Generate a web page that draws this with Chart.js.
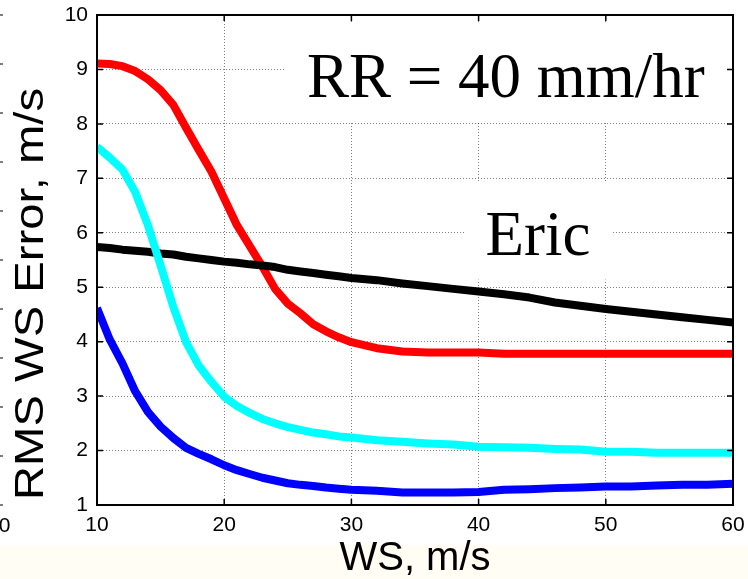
<!DOCTYPE html>
<html>
<head>
<meta charset="utf-8">
<script src="https://cdn.jsdelivr.net/npm/chart.js@4.4.1/dist/chart.umd.min.js"></script>
<style>
  html, body { margin: 0; padding: 0; background: #ffffff; }
  #wrap { width: 748px; height: 579px; position: relative; }
  canvas { display: block; }
</style>
</head>
<body>
<div id="wrap"><canvas id="chart" width="748" height="579"></canvas></div>
<script>
// Wind speed (m/s) at which each RMS error was evaluated
const windSpeed = [10, 11, 12, 13, 14, 15, 16, 17, 18, 19, 20, 21, 22, 23, 24, 25, 26, 27, 28, 29, 30,
                   32, 34, 36, 38, 40, 42, 44, 46, 48, 50, 52, 54, 56, 58, 60];

// RMS wind-speed error (m/s) for each retrieval, rain rate 40 mm/hr
const rmsRed   = [9.11, 9.10, 9.06, 8.97, 8.82, 8.62, 8.35, 7.93, 7.52, 7.12, 6.63, 6.14, 5.76, 5.38, 4.97, 4.70, 4.52, 4.32, 4.19, 4.08, 3.99,
                  3.88, 3.82, 3.80, 3.80, 3.80, 3.78, 3.78, 3.78, 3.78, 3.78, 3.78, 3.78, 3.78, 3.78, 3.78];
const rmsCyan  = [7.58, 7.38, 7.16, 6.75, 6.14, 5.40, 4.64, 3.99, 3.56, 3.26, 2.99, 2.82, 2.69, 2.58, 2.50, 2.43, 2.38, 2.33, 2.30, 2.26, 2.24,
                  2.19, 2.16, 2.13, 2.11, 2.07, 2.06, 2.05, 2.03, 2.02, 1.98, 1.98, 1.96, 1.96, 1.96, 1.96];
const rmsBlue  = [4.62, 4.04, 3.60, 3.09, 2.71, 2.44, 2.23, 2.05, 1.94, 1.84, 1.73, 1.64, 1.57, 1.50, 1.45, 1.40, 1.37, 1.35, 1.32, 1.30, 1.28,
                  1.26, 1.23, 1.23, 1.23, 1.24, 1.28, 1.29, 1.31, 1.32, 1.34, 1.34, 1.36, 1.37, 1.37, 1.39];
const rmsBlack = [5.74, 5.72, 5.69, 5.67, 5.65, 5.62, 5.60, 5.56, 5.53, 5.50, 5.47, 5.45, 5.42, 5.40, 5.37, 5.32, 5.29, 5.26, 5.23, 5.20, 5.17,
                  5.13, 5.07, 5.02, 4.97, 4.92, 4.87, 4.81, 4.72, 4.66, 4.60, 4.55, 4.50, 4.45, 4.40, 4.35];

// Axis ticks
const xTicks = [10, 20, 30, 40, 50, 60];
const yTicks = [1, 2, 3, 4, 5, 6, 7, 8, 9, 10];

// Text drawn inside the axes
const rainRateText = 'RR = 40 mm/hr';
const modelText = 'Eric';
const xTitle = 'WS, m/s';
const yTitle = 'RMS WS Error, m/s';

const sansFont = "'Liberation Sans', Arial, sans-serif";
const serifFont = "'Liberation Serif', 'Times New Roman', serif";

// White-backed labels placed in data coordinates
const annotations = [
  { text: rainRateText, x: 26.5, y: 8.5, align: 'left',   box: { x0: 24.8, x1: 59.9, y0: 8.04, y1: 9.87 } },
  { text: modelText,    x: 44.67, y: 5.6, align: 'center', box: { x0: 38.93, x1: 50.49, y0: 5.14, y1: 6.95 } }
];

const toPoints = (ys) => ys.map((y, i) => ({ x: windSpeed[i], y }));

function line(label, values, color, order) {
  return {
    label,
    data: toPoints(values),
    borderColor: color,
    backgroundColor: color,
    borderWidth: 8,
    pointRadius: 0,
    tension: 0,
    borderCapStyle: 'butt',
    borderJoinStyle: 'round',
    fill: false,
    order
  };
}

// Page background with a faint cream band along the bottom
const backdrop = {
  id: 'backdrop',
  beforeDraw(chart) {
    const { ctx, width, height } = chart;
    ctx.save();
    ctx.fillStyle = '#ffffff';
    ctx.fillRect(0, 0, width, height);
    ctx.fillStyle = '#fffdf4';
    ctx.fillRect(0, 545, width, height - 545);
    ctx.restore();
  }
};

// Text labels with white boxes that hide the grid behind them
const labelBoxes = {
  id: 'labelBoxes',
  beforeDatasetsDraw(chart) {
    const { ctx, scales: { x, y } } = chart;
    ctx.save();
    annotations.forEach(a => {
      const left = x.getPixelForValue(a.box.x0);
      const right = x.getPixelForValue(a.box.x1);
      const top = y.getPixelForValue(a.box.y1);
      const bottom = y.getPixelForValue(a.box.y0);
      ctx.fillStyle = '#ffffff';
      ctx.fillRect(left, top, right - left, bottom - top);
      ctx.fillStyle = '#000000';
      ctx.font = '63px ' + serifFont;
      ctx.textAlign = a.align;
      ctx.textBaseline = 'alphabetic';
      ctx.fillText(a.text, x.getPixelForValue(a.x), y.getPixelForValue(a.y));
    });
    ctx.restore();
  }
};

// Box around the axes with inward tick marks on all four sides
const axesFrame = {
  id: 'axesFrame',
  afterDatasetsDraw(chart) {
    const { ctx, chartArea: ca, scales: { x, y } } = chart;
    const tl = 6;
    ctx.save();
    ctx.strokeStyle = '#000000';
    ctx.lineWidth = 1.5;
    ctx.beginPath();
    xTicks.forEach(v => {
      const px = x.getPixelForValue(v);
      ctx.moveTo(px, ca.bottom); ctx.lineTo(px, ca.bottom - tl);
      ctx.moveTo(px, ca.top); ctx.lineTo(px, ca.top + tl);
    });
    yTicks.forEach(v => {
      const py = y.getPixelForValue(v);
      ctx.moveTo(ca.left, py); ctx.lineTo(ca.left + tl, py);
      ctx.moveTo(ca.right, py); ctx.lineTo(ca.right - tl, py);
    });
    ctx.stroke();
    ctx.lineWidth = 2;
    ctx.strokeRect(ca.left, ca.top, ca.right - ca.left, ca.bottom - ca.top);
    ctx.restore();
  }
};

// Vertical axis title, stretched along its length
const verticalTitle = {
  id: 'verticalTitle',
  afterDraw(chart) {
    const { ctx } = chart;
    ctx.save();
    ctx.font = '40px ' + sansFont;
    const w = ctx.measureText(yTitle).width;
    const stretch = 412 / w;
    ctx.translate(43, 294);
    ctx.rotate(-Math.PI / 2);
    ctx.scale(stretch, 1);
    ctx.fillStyle = '#000000';
    ctx.textAlign = 'center';
    ctx.textBaseline = 'alphabetic';
    ctx.fillText(yTitle, 0, 0);
    ctx.restore();

    // Edge of the neighbouring panel at the left border
    ctx.save();
    ctx.fillStyle = '#000000';
    ctx.font = '21px ' + sansFont;
    ctx.textAlign = 'right';
    ctx.textBaseline = 'alphabetic';
    ctx.fillText('0', 10.5, 532);
    ctx.strokeStyle = '#000000';
    ctx.lineWidth = 1.2;
    ctx.beginPath();
    for (let i = 0; i <= 10; i++) {
      const py = 15 + i * 49;
      ctx.moveTo(0, py); ctx.lineTo(3, py);
    }
    ctx.stroke();
    ctx.restore();
  }
};

new Chart(document.getElementById('chart'), {
  type: 'line',
  data: {
    datasets: [
      line('Red', rmsRed, '#ff0000', 3),
      line('Black', rmsBlack, '#000000', 2),
      line('Cyan', rmsCyan, '#00ffff', 0),
      line('Blue', rmsBlue, '#0000ff', 1)
    ]
  },
  options: {
    responsive: false,
    devicePixelRatio: 1,
    animation: false,
    layout: { padding: { top: 15, right: 15, left: 0, bottom: 0 } },
    plugins: {
      legend: { display: false },
      tooltip: { enabled: false },
      title: { display: false }
    },
    scales: {
      x: {
        type: 'linear',
        min: 10,
        max: 60,
        afterFit(scale) {
          scale.height = 74;
          scale.paddingLeft = 0;
          scale.paddingRight = 0;
        },
        afterBuildTicks(scale) { scale.ticks = xTicks.map(v => ({ value: v })); },
        ticks: {
          color: '#000000',
          font: { family: sansFont, size: 21 },
          padding: 8,
          maxRotation: 0,
          autoSkip: false
        },
        grid: { color: 'rgba(0,0,0,0.5)', lineWidth: 1, drawTicks: false },
        border: { display: false, dash: [1, 2] },
        title: {
          display: true,
          text: xTitle,
          color: '#000000',
          font: { family: sansFont, size: 40, lineHeight: 1 },
          padding: { top: 0, bottom: 0 }
        }
      },
      y: {
        type: 'linear',
        min: 1,
        max: 10,
        afterFit(scale) {
          scale.width = 97;
          scale.paddingTop = 0;
          scale.paddingBottom = 0;
        },
        afterBuildTicks(scale) { scale.ticks = yTicks.map(v => ({ value: v })); },
        ticks: {
          color: '#000000',
          font: { family: sansFont, size: 21 },
          padding: 9,
          autoSkip: false
        },
        grid: { color: 'rgba(0,0,0,0.5)', lineWidth: 1, drawTicks: false },
        border: { display: false, dash: [1, 2] }
      }
    }
  },
  plugins: [backdrop, labelBoxes, axesFrame, verticalTitle]
});
</script>
</body>
</html>
